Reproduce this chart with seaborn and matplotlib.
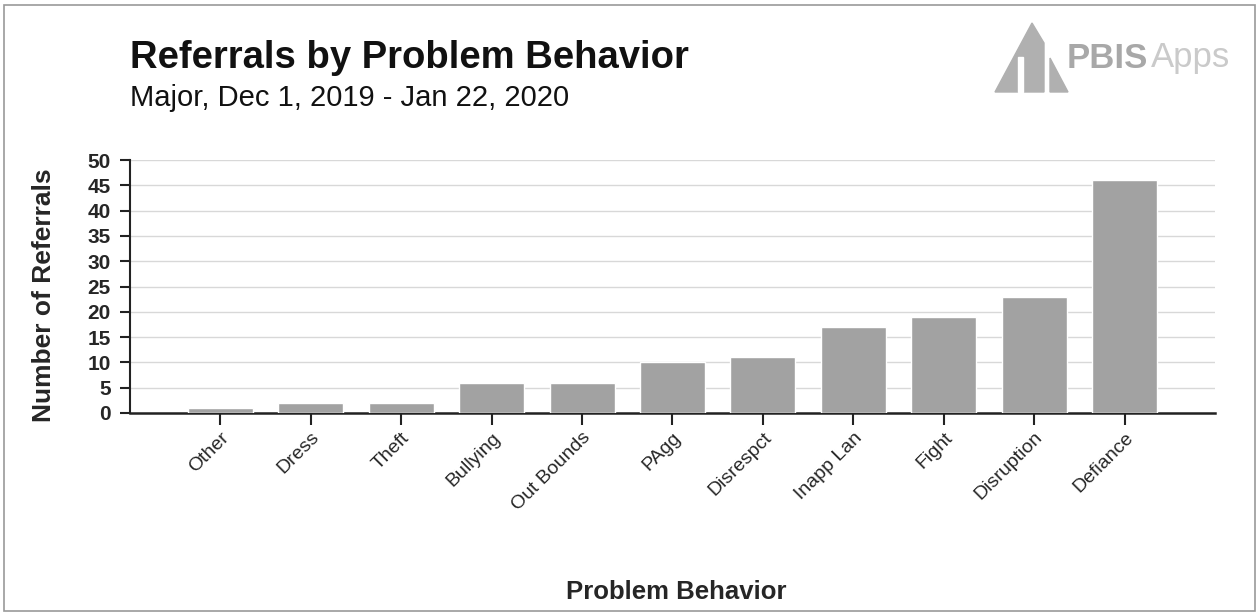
import matplotlib
matplotlib.use("Agg")
import matplotlib.pyplot as plt
import seaborn as sns
import pandas as pd
from matplotlib.patches import Rectangle, Polygon

categories = ["Other", "Dress", "Theft", "Bullying", "Out Bounds", "PAgg",
              "Disrespct", "Inapp Lan", "Fight", "Disruption", "Defiance"]
referrals = [1, 2, 2, 6, 6, 10, 11, 17, 19, 23, 46]
y_ticks = [0, 5, 10, 15, 20, 25, 30, 35, 40, 45, 50]

sns.set_theme(style="white")
plt.rcParams['font.family'] = ['Liberation Sans', 'DejaVu Sans']

df = pd.DataFrame({"Problem Behavior": categories, "Number of Referrals": referrals})

W, H = 1259, 615
fig = plt.figure(figsize=(W / 100, H / 100), dpi=100)
ax = fig.add_axes([130/W, 1 - 413/H, (1215-130)/W, (413-160)/H])

sns.barplot(data=df, x="Problem Behavior", y="Number of Referrals", color="#a2a2a2",
            saturation=1, width=0.72, ax=ax, zorder=3)

ax.set_xlim(-1, 11)
ax.set_ylim(0, 50)
ax.set_yticks(y_ticks)
ax.set_yticklabels([str(v) for v in y_ticks], fontsize=15, fontweight="bold")
ax.yaxis.grid(True, color="#d8d8d8", linewidth=1.0, zorder=0)
ax.xaxis.grid(False)
for s in ["top", "right"]:
    ax.spines[s].set_visible(False)
ax.spines["left"].set_color("#222222")
ax.spines["bottom"].set_color("#222222")
ax.spines["left"].set_linewidth(1.5)
ax.spines["bottom"].set_linewidth(1.8)
ax.tick_params(axis="y", length=7, width=1.5, color="#222222", direction="out", left=True, pad=7)
ax.tick_params(axis="x", length=8.5, width=1.5, color="#222222", direction="out", bottom=True, pad=3)
ax.set_xticks(range(len(categories)))
ax.set_xticklabels(categories, rotation=45, ha="right", rotation_mode="anchor", fontsize=14)

ax.set_ylabel("")
ax.set_xlabel("")
fig.text(44/W, 1 - 295/H, "Number of Referrals", fontsize=19, fontweight="bold",
         rotation=90, ha="center", va="center")
fig.text(676/W, 1 - 592/H, "Problem Behavior", fontsize=18.5, fontweight="bold",
         ha="center", va="center")

fig.text(130/W, 1 - 58/H, "Referrals by Problem Behavior", fontsize=27.5,
         fontweight="bold", ha="left", va="center", color="#111111")
fig.text(130/W, 1 - 98/H, "Major, Dec 1, 2019 - Jan 22, 2020", fontsize=21,
         ha="left", va="center", color="#111111")

# logo
def fp(pts):
    return [[x / W, 1 - y / H] for x, y in pts]

fig.patches.append(Polygon(fp([(995, 92), (1032, 23), (1044, 43), (1044, 92)]),
                           closed=True, transform=fig.transFigure, color="#b0b0b0", zorder=1))
fig.patches.append(Rectangle((1018/W, 1 - 92/H), 5/W, 35/H, transform=fig.transFigure,
                             color="white", zorder=2))
fig.patches.append(Polygon(fp([(1050, 92), (1050, 58), (1068, 92)]),
                           closed=True, transform=fig.transFigure, color="#b0b0b0", zorder=1))
fig.text(1067/W, 1 - 58/H, "PBIS", fontsize=25, fontweight="bold", color="#a8a8a8",
         ha="left", va="center")
fig.text(1151/W, 1 - 58/H, "Apps", fontsize=25, color="#cacaca", ha="left", va="center")

# border
fig.patches.append(Rectangle((4/W, 4/H), 1251/W, 606/H, transform=fig.transFigure,
                             fill=False, edgecolor="#999999", linewidth=1.2))

fig.savefig("out.png", dpi=100)
